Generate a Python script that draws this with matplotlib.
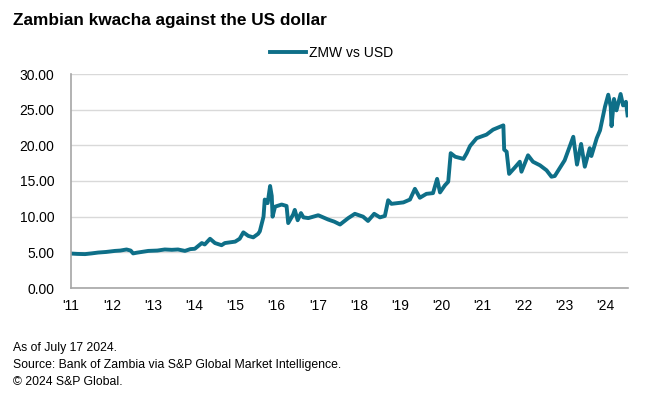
import matplotlib
matplotlib.use('Agg')
import matplotlib.pyplot as plt
from matplotlib.ticker import FormatStrFormatter

plt.rcParams['font.family'] = ['Liberation Sans', 'DejaVu Sans']

# Approximate trace of ZMW per USD, decimal year
years = [
    2011.00, 2011.15, 2011.34, 2011.50, 2011.66, 2011.85, 2012.07, 2012.20,
    2012.35, 2012.45, 2012.51, 2012.60, 2012.88, 2013.10, 2013.28, 2013.45,
    2013.60, 2013.77, 2013.90, 2014.01, 2014.18, 2014.25, 2014.38, 2014.50,
    2014.66, 2014.74, 2014.99, 2015.10, 2015.19, 2015.31, 2015.43, 2015.55,
    2015.59, 2015.68, 2015.71, 2015.78, 2015.84, 2015.88, 2015.90, 2015.96,
    2016.12, 2016.24, 2016.28, 2016.40, 2016.44, 2016.51, 2016.59, 2016.65,
    2016.77, 2017.01, 2017.25, 2017.40, 2017.54, 2017.74, 2017.90, 2018.10,
    2018.22, 2018.37, 2018.51, 2018.63, 2018.71, 2018.79, 2019.08, 2019.24,
    2019.36, 2019.48, 2019.64, 2019.80, 2019.90, 2019.97, 2020.09, 2020.17,
    2020.23, 2020.34, 2020.54, 2020.62, 2020.70, 2020.86, 2021.10, 2021.26,
    2021.51, 2021.53, 2021.59, 2021.65, 2021.79, 2021.91, 2021.95, 2022.11,
    2022.23, 2022.40, 2022.56, 2022.68, 2022.76, 2023.00, 2023.21, 2023.30,
    2023.40, 2023.49, 2023.61, 2023.65, 2023.78, 2023.86, 2023.98, 2024.06,
    2024.12, 2024.14, 2024.20, 2024.26, 2024.36, 2024.42, 2024.49, 2024.53,
]
zmw_usd = [
    4.83, 4.78, 4.75, 4.85, 4.97, 5.05, 5.20, 5.25,
    5.40, 5.25, 4.85, 4.95, 5.20, 5.25, 5.40, 5.35,
    5.40, 5.20, 5.45, 5.50, 6.30, 6.10, 6.90, 6.30,
    6.00, 6.30, 6.50, 6.90, 7.80, 7.30, 7.10, 7.60,
    7.95, 10.0, 12.4, 11.9, 14.3, 12.9, 10.0, 11.4,
    11.7, 11.5, 9.10, 10.3, 10.95, 9.50, 10.5, 9.90,
    9.80, 10.2, 9.60, 9.30, 8.90, 9.80, 10.4, 10.0,
    9.40, 10.4, 9.90, 10.1, 12.3, 11.8, 12.0, 12.4,
    13.9, 12.65, 13.2, 13.3, 15.3, 13.4, 14.4, 14.9,
    18.9, 18.4, 18.1, 18.9, 19.9, 21.0, 21.5, 22.2,
    22.8, 19.4, 19.1, 16.0, 16.9, 17.7, 16.3, 18.6,
    17.7, 17.2, 16.5, 15.6, 15.7, 17.9, 21.2, 17.3,
    20.2, 17.0, 19.6, 18.5, 21.0, 22.1, 25.4, 27.1,
    25.4, 22.7, 26.5, 24.9, 27.2, 25.6, 26.1, 24.2,
]

tick_years = list(range(2011, 2025))
tick_labels = ["'" + str(y)[2:] for y in tick_years]

line_color = '#0E6F88'

fig = plt.figure(figsize=(6.5, 4.16), dpi=100)
ax = fig.add_axes([71 / 650, 1 - 288 / 416, 557 / 650, 214 / 416])

ax.plot(years, zmw_usd, color=line_color, linewidth=2.8, label='ZMW vs USD',
        solid_joinstyle='round')

ax.set_xlim(2011, 2024.54)
ax.set_ylim(0, 30)
ax.set_yticks([0, 5, 10, 15, 20, 25, 30])
ax.yaxis.set_major_formatter(FormatStrFormatter('%.2f'))
ax.set_xticks(tick_years)
ax.set_xticklabels(tick_labels)

ax.grid(axis='y', color='#d9d9d9', linewidth=1)
ax.set_axisbelow(True)
for side in ['top', 'right']:
    ax.spines[side].set_visible(False)
for side in ['left', 'bottom']:
    ax.spines[side].set_color('#a6a6a6')
    ax.spines[side].set_linewidth(1.2)
ax.tick_params(length=0, labelsize=10, colors='#000000')
ax.tick_params(axis='y', pad=12)
ax.tick_params(axis='x', pad=8)

ax.legend(loc='center', bbox_to_anchor=(0.467, 1.10), frameon=False,
          fontsize=10, handlelength=2.6, handletextpad=0.2)

fig.text(13 / 650, 1 - 20 / 416, 'Zambian kwacha against the US dollar',
         fontsize=12.4, fontweight='bold', va='center', ha='left')

footer = ['As of July 17 2024.',
          'Source: Bank of Zambia via S&P Global Market Intelligence.',
          '\u00a9 2024 S&P Global.']
for i, line in enumerate(footer):
    fig.text(13 / 650, 1 - (348 + 17 * i) / 416, line, fontsize=8.8,
             va='center', ha='left', color='#000000')

fig.savefig('out.png', dpi=100)
